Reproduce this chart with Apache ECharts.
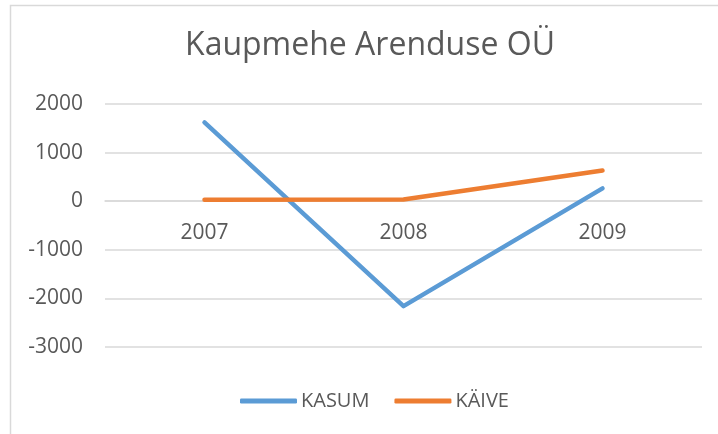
<!DOCTYPE html>
<html>
<head>
<meta charset="utf-8">
<script src="https://cdn.jsdelivr.net/npm/echarts@6/dist/echarts.min.js"></script>
<style>
  html, body { margin: 0; padding: 0; background: #fff; }
  #chart { width: 718px; height: 434px; }
</style>
</head>
<body>
<div id="chart"></div>
<script>
// andmed
const years = ['2007', '2008', '2009']
const kasum = [1620, -2160, 265]
const kaive = [30, 35, 630]
const yTicks = { min: -3000, max: 2000, step: 1000 }

const textColor = '#595959'
const gridColor = '#d9d9d9'
const font = 'Open Sans'

const gridTop = 104
const gridBottom = 87
const gridH = 434 - gridTop - gridBottom
// x-telg nullijoonele
const zeroOffset = -gridH * (0 - yTicks.min) / (yTicks.max - yTicks.min)

const chart = echarts.init(document.getElementById('chart'))

chart.setOption({
  animation: false,
  backgroundColor: '#fff',
  textStyle: { fontFamily: font },
  graphic: [{
    // raam ümber graafiku
    type: 'rect',
    shape: { x: 10.5, y: 5.5, width: 720, height: 440 },
    style: { fill: 'none', stroke: gridColor, lineWidth: 1.5 },
    silent: true
  }],
  title: {
    text: 'Kaupmehe Arenduse OÜ',
    left: 365,
    textAlign: 'center',
    top: 25,
    textStyle: {
      fontFamily: font,
      fontSize: 32,
      fontWeight: 'normal',
      color: textColor
    }
  },
  legend: {
    data: ['KASUM', 'KÄIVE'],
    left: 235,
    top: 386,
    icon: 'roundRect',
    itemWidth: 57,
    itemHeight: 5,
    itemGap: 25,
    textStyle: { fontFamily: font, fontSize: 20, color: textColor, padding: [0, 0, 0, -1] }
  },
  grid: {
    left: 105,
    right: 16,
    top: gridTop,
    bottom: gridBottom
  },
  xAxis: {
    type: 'category',
    data: years,
    boundaryGap: true,
    axisLine: { onZero: false, lineStyle: { color: gridColor, width: 1.5 } },
    offset: zeroOffset,
    axisTick: { show: false },
    axisLabel: { color: textColor, fontFamily: font, fontSize: 21, margin: 21 },
    splitLine: { show: false }
  },
  yAxis: {
    type: 'value',
    min: yTicks.min,
    max: yTicks.max,
    interval: yTicks.step,
    axisLine: { show: false },
    axisTick: { show: false },
    axisLabel: {
      color: textColor,
      fontFamily: font,
      fontSize: 21,
      margin: 22,
      formatter: v => String(v)
    },
    splitLine: { lineStyle: { color: gridColor, width: 1.5 } }
  },
  series: [
    {
      name: 'KASUM',
      type: 'line',
      data: kasum,
      symbol: 'none',
      color: '#5b9bd5',
      lineStyle: { width: 4.5, cap: 'round', join: 'round' }
    },
    {
      name: 'KÄIVE',
      type: 'line',
      data: kaive,
      symbol: 'none',
      color: '#ed7d31',
      lineStyle: { width: 4.5, cap: 'round', join: 'round' }
    }
  ]
})
</script>
</body>
</html>
